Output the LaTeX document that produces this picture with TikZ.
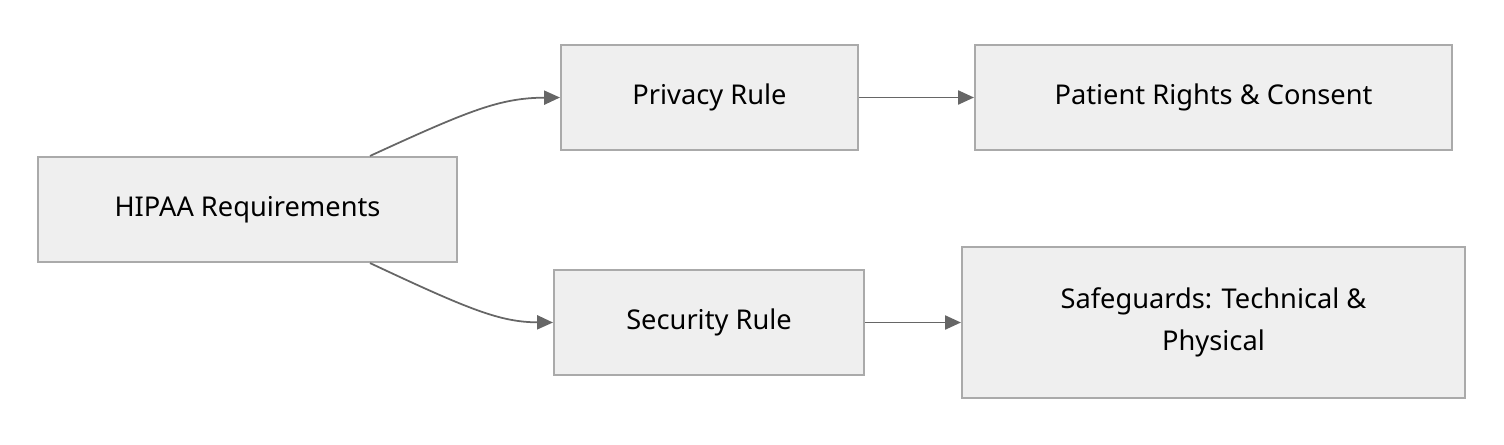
\documentclass[tikz,border=0pt]{standalone}
\usepackage{fontspec}
\setmainfont{Noto Sans}
\usetikzlibrary{arrows.meta}
\definecolor{boxfill}{HTML}{EFEFEF}
\definecolor{boxline}{HTML}{AAAAAA}
\definecolor{edge}{HTML}{666666}
\begin{document}
\begin{tikzpicture}[x=0.02cm,y=-0.02cm,
  box/.style={draw=boxline,fill=boxfill,line width=1.2pt,inner sep=0pt,align=center,
    font=\fontsize{15.5}{24}\selectfont},
  arr/.style={draw=edge,line width=1pt,-{Triangle[length=9pt,width=8pt]}}]
\useasboundingbox (0,0) rectangle (1504,444);
\node[box,minimum width=419*0.02cm,minimum height=105*0.02cm] (h) at (247.5,209.5) {HIPAA Requirements};
\node[box,minimum width=297*0.02cm,minimum height=105*0.02cm] (p) at (709.5,97.5) {Privacy Rule};
\node[box,minimum width=477*0.02cm,minimum height=105*0.02cm] (pr) at (1213.5,97.5) {Patient Rights \& Consent};
\node[box,minimum width=310*0.02cm,minimum height=105*0.02cm] (s) at (709,322.5) {Security Rule};
\node[box,minimum width=503*0.02cm,minimum height=151*0.02cm] (sg) at (1213.5,322.5) {Safeguards: Technical \&\\Physical};
\draw[arr] (h.north -| 370,0) .. controls (470,110) and (500,98) .. (p.west);
\draw[arr] (h.south -| 370,0) .. controls (470,310) and (500,322) .. (s.west);
\draw[arr] (p) -- (pr);
\draw[arr] (s) -- (sg);
\end{tikzpicture}
\end{document}
